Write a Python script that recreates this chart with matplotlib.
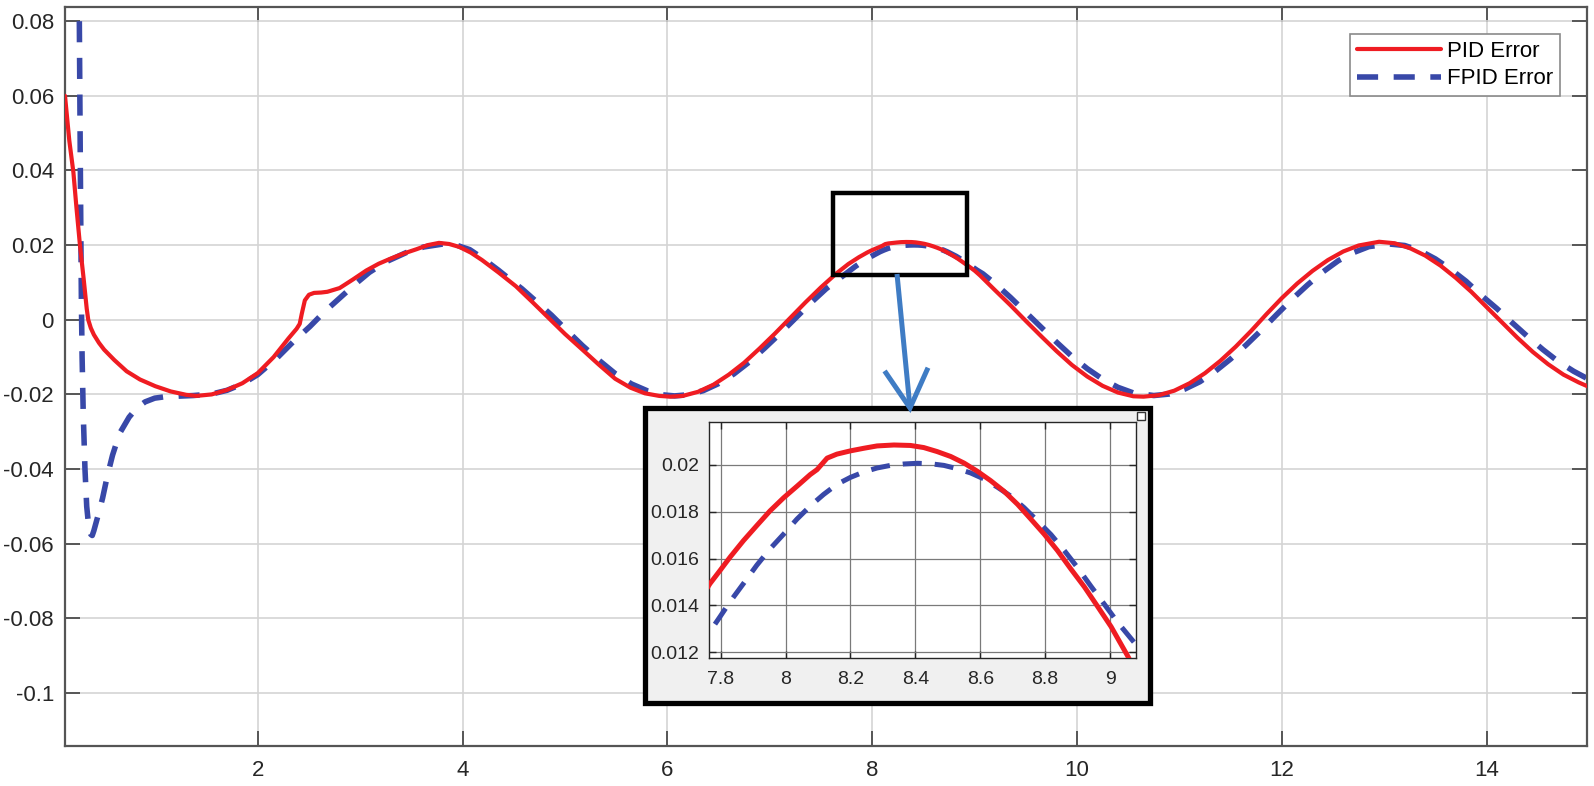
import matplotlib
matplotlib.use("Agg")
import matplotlib.pyplot as plt
from matplotlib.patches import Rectangle
from matplotlib.lines import Line2D

plt.rcParams['font.family'] = ['Liberation Sans', 'DejaVu Sans']
plt.rcParams['axes.unicode_minus'] = False

# ---------------- data ----------------
t_pid = [0.118, 0.16, 0.20, 0.23, 0.264, 0.30, 0.33, 0.345, 0.37, 0.40, 0.45, 0.50,
         0.60, 0.72, 0.85, 1.00, 1.15, 1.30, 1.40, 1.55, 1.70, 1.85, 2.00, 2.155,
         2.30, 2.38, 2.41, 2.43, 2.46, 2.50, 2.55, 2.62, 2.68, 2.80, 2.93, 3.06,
         3.18, 3.29, 3.42, 3.55, 3.66, 3.77, 3.87, 3.97, 4.08, 4.19, 4.35, 4.52,
         4.68, 4.84, 5.00, 5.17, 5.33, 5.49, 5.64, 5.78, 5.92, 6.03, 6.15, 6.30,
         6.45, 6.60, 6.75, 6.90, 7.05, 7.20, 7.35, 7.50, 7.65,
         7.767, 7.798, 7.829, 7.870, 7.911, 7.952, 7.994, 8.035, 8.076, 8.097,
         8.128, 8.158, 8.200, 8.241, 8.282, 8.334, 8.385, 8.426, 8.467, 8.509,
         8.550, 8.591, 8.632, 8.673, 8.715, 8.756, 8.797, 8.838, 8.879, 8.921,
         8.962, 9.003, 9.055,
         9.2, 9.35, 9.5, 9.65, 9.8, 9.95, 10.1, 10.25,
         10.4, 10.55, 10.65, 10.8, 10.95, 11.1, 11.25, 11.4, 11.55, 11.7, 11.85,
         12.0, 12.15, 12.3, 12.45, 12.6, 12.75, 12.95, 13.1, 13.25, 13.4, 13.55,
         13.7, 13.85, 14.0, 14.15, 14.3, 14.45, 14.6, 14.75, 14.9, 15.0]
e_pid = [0.060, 0.048, 0.0395, 0.030, 0.020, 0.011, 0.003, 0.0, -0.0022, -0.0040,
         -0.0062, -0.0080, -0.0108, -0.0138, -0.0160, -0.0178, -0.0192, -0.0201,
         -0.0204, -0.0200, -0.0188, -0.0170, -0.0143, -0.0100, -0.0050, -0.0024,
         -0.0011, 0.0016, 0.0052, 0.0067, 0.0072, 0.0073, 0.0075, 0.0085, 0.0108,
         0.0132, 0.0150, 0.0163, 0.0177, 0.0189, 0.0200, 0.0206, 0.0203, 0.0195,
         0.0180, 0.0160, 0.0127, 0.0090, 0.0048, 0.0005, -0.0038, -0.0080, -0.0120,
         -0.0158, -0.0182, -0.0197, -0.0204, -0.0206, -0.0204, -0.0193, -0.0174,
         -0.0147, -0.0115, -0.0077, -0.0037, 0.0005, 0.0047, 0.0087, 0.0124,
         0.01493, 0.01549, 0.01606, 0.01676, 0.01740, 0.01803, 0.01859, 0.01908,
         0.01958, 0.01979, 0.02028, 0.02045, 0.02059, 0.02070, 0.02080, 0.02084,
         0.02082, 0.02073, 0.02056, 0.02035, 0.02007, 0.01972, 0.01932, 0.01887,
         0.01831, 0.01768, 0.01704, 0.01634, 0.01556, 0.01479, 0.01395, 0.01310,
         0.01183,
         0.0079, 0.0039, -0.0003, -0.0044, -0.0084, -0.0121,
         -0.0152, -0.0177, -0.0195, -0.0205, -0.0206, -0.0202, -0.0190, -0.0170,
         -0.0143, -0.0110, -0.0072, -0.0030, 0.0015, 0.0058, 0.0097, 0.0131,
         0.0160, 0.0183, 0.0199, 0.0209, 0.0205, 0.0192, 0.0172, 0.0145, 0.0112,
         0.0075, 0.0034, -0.0007, -0.0048, -0.0086, -0.0119, -0.0147, -0.0168,
         -0.0180]

t_fpid = [0.258, 0.268, 0.278, 0.285, 0.296, 0.313, 0.330, 0.350, 0.370, 0.384,
          0.40, 0.44, 0.485, 0.53, 0.582, 0.65, 0.744, 0.82, 0.90, 0.994, 1.10,
          1.20, 1.37, 1.55, 1.70, 1.85, 2.00, 2.19, 2.35, 2.51, 2.65, 2.80, 2.95,
          3.09, 3.25, 3.45, 3.62, 3.81, 3.95, 4.07, 4.19, 4.35, 4.50, 4.58, 4.72,
          4.87, 5.02, 5.17, 5.33, 5.49, 5.65, 5.81, 5.95, 6.07, 6.2, 6.35, 6.5,
          6.65, 6.8, 6.95, 7.1, 7.25, 7.4, 7.55, 7.65,
          7.767, 7.798, 7.829, 7.870, 7.911, 7.952, 7.994, 8.035, 8.076, 8.117,
          8.158, 8.200, 8.241, 8.282, 8.323, 8.364, 8.406, 8.447, 8.488, 8.529,
          8.570, 8.612, 8.653, 8.694, 8.735, 8.776, 8.818, 8.859, 8.900, 8.941,
          8.982, 9.024, 9.080,
          9.2, 9.35, 9.5, 9.65, 9.8, 9.95, 10.1, 10.25, 10.4, 10.55, 10.75,
          10.9, 11.05, 11.2, 11.35, 11.5, 11.65, 11.8, 11.95, 12.1, 12.25, 12.4,
          12.55, 12.7, 12.85, 13.05, 13.2, 13.35, 13.5, 13.65, 13.8, 13.95, 14.1,
          14.25, 14.4, 14.55, 14.7, 14.85, 15.0]
e_fpid = [0.080, 0.040, 0.005, -0.010, -0.025, -0.040, -0.050, -0.0555, -0.0575,
          -0.0578, -0.0565, -0.0525, -0.0478, -0.0420, -0.0363, -0.0305, -0.0261,
          -0.0236, -0.0220, -0.0210, -0.0206, -0.0205, -0.0203, -0.0199, -0.0189,
          -0.0172, -0.0147, -0.0102, -0.0058, -0.0018, 0.0021, 0.0058, 0.0095,
          0.0127, 0.0155, 0.0180, 0.0195, 0.0203, 0.0199, 0.0188, 0.0166, 0.0133,
          0.0100, 0.0083, 0.0049, 0.0012, -0.0029, -0.0069, -0.0108, -0.0144,
          -0.0172, -0.0191, -0.0201, -0.0204, -0.0201, -0.0190, -0.0171, -0.0145,
          -0.0113, -0.0076, -0.0037, 0.0004, 0.0045, 0.0083, 0.0104,
          0.01289, 0.01352, 0.01416, 0.01493, 0.01571, 0.01641, 0.01704, 0.01768,
          0.01824, 0.01873, 0.01916, 0.01946, 0.01969, 0.01986, 0.01997, 0.02003,
          0.02006, 0.02004, 0.01997, 0.01983, 0.01965, 0.01939, 0.01904, 0.01866,
          0.01817, 0.01761, 0.01702, 0.01634, 0.01561, 0.01482, 0.01406, 0.01327,
          0.01233,
          0.0097, 0.0060,
          0.0020, -0.0020, -0.0060, -0.0098, -0.0131, -0.0159, -0.0181, -0.0196,
          -0.0203, -0.0199, -0.0186, -0.0166, -0.0138, -0.0105, -0.0068, -0.0028,
          0.0014, 0.0055, 0.0093, 0.0128, 0.0158, 0.0180, 0.0196, 0.0203, 0.0199,
          0.0185, 0.0163, 0.0135, 0.0103, 0.0065, 0.0030, -0.0008, -0.0045,
          -0.0080, -0.0112, -0.0138, -0.0160]

labels = ["PID Error", "FPID Error"]
main_xticks = [2, 4, 6, 8, 10, 12, 14]
main_yticks = [-0.1, -0.08, -0.06, -0.04, -0.02, 0, 0.02, 0.04, 0.06, 0.08]
main_yticklabels = ["-0.1", "-0.08", "-0.06", "-0.04", "-0.02", "0", "0.02", "0.04", "0.06", "0.08"]
inset_xticks = [7.8, 8.0, 8.2, 8.4, 8.6, 8.8, 9.0]
inset_xticklabels = ["7.8", "8", "8.2", "8.4", "8.6", "8.8", "9"]
inset_yticks = [0.012, 0.014, 0.016, 0.018, 0.02]
inset_yticklabels = ["0.012", "0.014", "0.016", "0.018", "0.02"]

RED = '#ef1c22'
BLUE = '#3848a8'
W, H = 1594, 786

fig = plt.figure(figsize=(W / 100, H / 100), dpi=100)

def fx(px):
    return px / W

def fy(py):
    return 1 - py / H

# ---------------- main axes ----------------
ax = fig.add_axes([fx(65), fy(746), fx(1587) - fx(65), fy(7) - fy(746)])
ax.plot(t_pid, e_pid, color=RED, lw=3.0, label=labels[0], solid_capstyle='round',
        solid_joinstyle='round', zorder=3)
ax.plot(t_fpid, e_fpid, color=BLUE, lw=4.0, ls=(0, (3.8, 2.8)), label=labels[1], zorder=2)
ax.set_xlim(0.118, 14.98)
ax.set_ylim(-0.1142, 0.0838)
ax.set_xticks(main_xticks)
ax.set_xticklabels([str(v) for v in main_xticks])
ax.set_yticks(main_yticks)
ax.set_yticklabels(main_yticklabels)
ax.grid(True, color='#d4d4d4', lw=1.2)
ax.set_axisbelow(True)
ax.tick_params(direction='in', length=11, width=1.2, colors='#404040',
               labelcolor='#262626', labelsize=16, top=True, right=True, pad=8)
ax.tick_params(axis='x', pad=10)
for s in ax.spines.values():
    s.set_color('#555555')
    s.set_linewidth(1.6)

leg = ax.legend(loc='upper right', bbox_to_anchor=(0.9823, 0.9635), borderaxespad=0,
                fontsize=16, handlelength=3.8, fancybox=False, framealpha=1,
                edgecolor='#8a8a8a', borderpad=0.3, labelspacing=0.3, handletextpad=0.27)
leg.get_frame().set_linewidth(1.2)

# zoom rectangle on main axes (data coordinates)
ax.add_patch(Rectangle((7.618, 0.0121), 8.927 - 7.618, 0.0339 - 0.0121, fill=False,
                       edgecolor='black', lw=3.2, zorder=5))

# ---------------- inset frame ----------------
frame = Rectangle((fx(645), fy(703)), fx(1150) - fx(645), fy(408) - fy(703),
                  transform=fig.transFigure, facecolor='#f0f0f0', edgecolor='black',
                  lw=3.8, zorder=3)
fig.add_artist(frame)

# arrow (figure pixel positions)
arrow_col = '#3f7cc4'
fig.add_artist(Line2D([fx(897), fx(910)], [fy(274), fy(408)], transform=fig.transFigure,
                      color=arrow_col, lw=3.6, zorder=4, solid_capstyle='butt'))
fig.add_artist(Line2D([fx(886), fx(910), fx(927)], [fy(373), fy(408), fy(370)],
                      transform=fig.transFigure, color=arrow_col, lw=3.6, zorder=4,
                      solid_joinstyle='miter'))

# ---------------- inset axes ----------------
ins = fig.add_axes([fx(709), fy(658), fx(1136) - fx(709), fy(422) - fy(658)], zorder=6)
ins.plot(t_pid, e_pid, color=RED, lw=3.6, zorder=3, solid_joinstyle='round')
ins.plot(t_fpid, e_fpid, color=BLUE, lw=3.6, ls=(0, (3.8, 2.6)), zorder=2)
ins.set_xlim(7.764, 9.08)
ins.set_ylim(0.01176, 0.02182)
ins.set_xticks(inset_xticks)
ins.set_xticklabels(inset_xticklabels)
ins.set_yticks(inset_yticks)
ins.set_yticklabels(inset_yticklabels)
ins.grid(True, color='#7a7a7a', lw=0.9)
ins.set_axisbelow(True)
ins.tick_params(direction='in', length=5, width=1.0, colors='#262626',
                labelcolor='#262626', labelsize=14, top=True, right=True, pad=7)
ins.tick_params(axis='x', pad=9)
for s in ins.spines.values():
    s.set_color('#262626')
    s.set_linewidth(1.0)

# small toolbar square at inset corner
fig.add_artist(Rectangle((fx(1137), fy(420)), fx(8), fy(412) - fy(420),
                         transform=fig.transFigure, facecolor='white',
                         edgecolor='#333333', lw=1.0, zorder=7))

fig.savefig('out.png', dpi=100)
